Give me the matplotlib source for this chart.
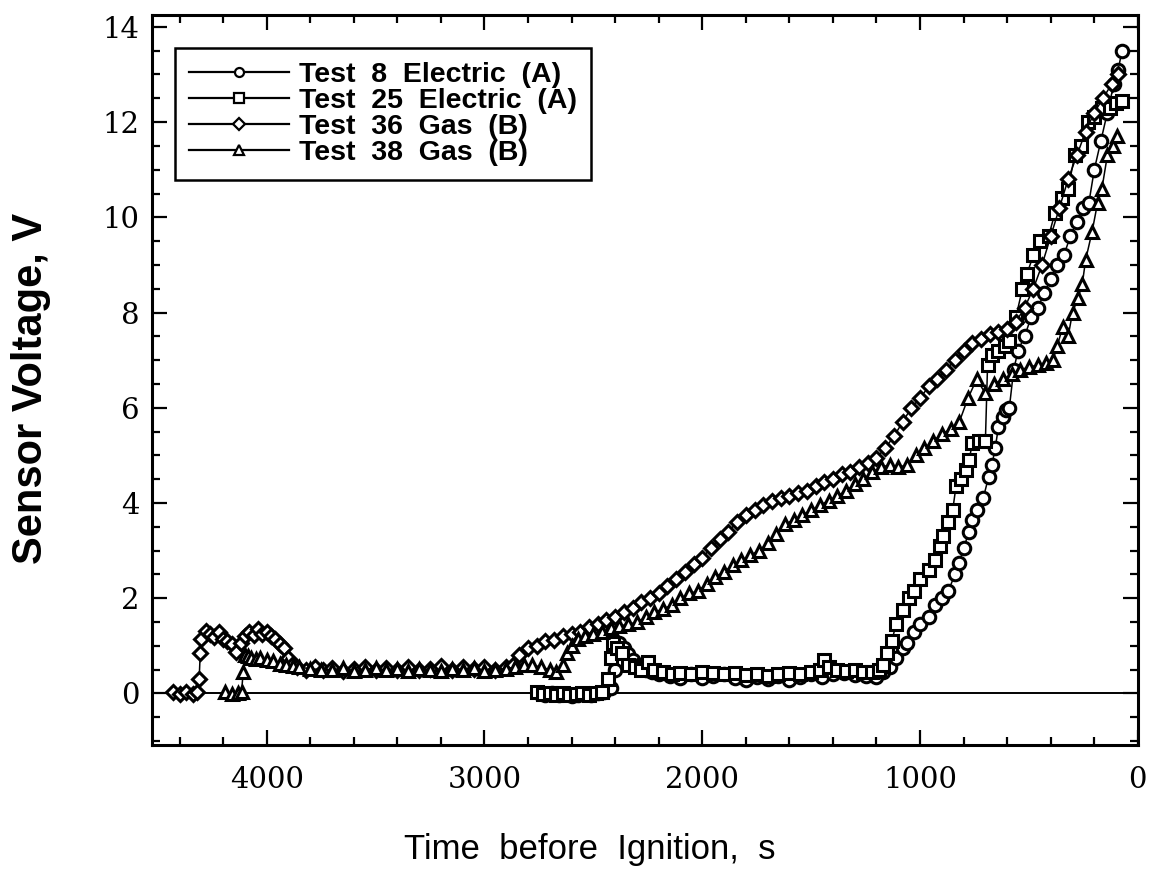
import matplotlib.pyplot as plt
from matplotlib.ticker import MultipleLocator

# --- data (time before ignition in s, voltage in V) ---
t_test8 = [2750, 2720, 2690, 2660, 2630, 2600, 2570, 2540, 2510, 2480, 2450, 2420,
           2400, 2390, 2380, 2360, 2340, 2320, 2290, 2260, 2230, 2200, 2150, 2100,
           2050, 2000, 1950, 1900, 1850, 1800, 1750, 1700, 1650, 1600, 1550, 1500,
           1450, 1400, 1350, 1300, 1250, 1200, 1170, 1140, 1110, 1080, 1060, 1030,
           1000, 960, 930, 900, 870, 840, 820, 800, 775, 760, 740, 710, 685, 670,
           655, 640, 620, 607, 590, 570, 550, 520, 490, 460, 430, 400, 370, 340,
           310, 280, 250, 225, 200, 170, 140, 110, 90, 73]
v_test8 = [0.0, -0.03, 0.0, -0.04, -0.02, -0.05, -0.03, -0.01, -0.04, 0.0, 0.02, 0.12,
           0.5, 0.9, 1.05, 0.95, 0.82, 0.7, 0.6, 0.5, 0.45, 0.4, 0.36, 0.33,
           0.4, 0.32, 0.37, 0.4, 0.33, 0.28, 0.34, 0.3, 0.36, 0.29, 0.35, 0.4,
           0.34, 0.4, 0.42, 0.38, 0.36, 0.35, 0.45, 0.55, 0.75, 0.95, 1.05, 1.3,
           1.45, 1.6, 1.85, 2.0, 2.15, 2.5, 2.75, 3.05, 3.4, 3.65, 3.85, 4.1, 4.55, 4.8,
           5.15, 5.6, 5.8, 5.95, 6.0, 6.8, 7.2, 7.5, 7.9, 8.1, 8.4, 8.7, 9.0, 9.2,
           9.6, 9.9, 10.2, 10.3, 11.0, 11.6, 12.2, 12.8, 13.1, 13.5]

t_test25 = [2760, 2730, 2700, 2670, 2640, 2610, 2580, 2550, 2520, 2490, 2460, 2435,
            2420, 2410, 2390, 2370, 2340, 2310, 2280, 2250, 2220, 2180, 2140, 2100,
            2050, 2000, 1950, 1900, 1850, 1800, 1750, 1700, 1650, 1600, 1550, 1500,
            1460, 1440, 1420, 1380, 1340, 1300, 1260, 1220, 1190, 1170, 1150, 1130,
            1110, 1080, 1050, 1030, 1000, 960, 930, 910, 895, 870, 850, 835, 810,
            790, 775, 760, 730, 700, 690, 670, 640, 610, 590, 560, 530, 510, 480,
            450, 410, 380, 350, 320, 290, 260, 230, 200, 165, 130, 100, 75]
v_test25 = [0.02, -0.02, 0.01, -0.03, 0.0, -0.04, -0.02, 0.01, -0.03, 0.0, 0.02, 0.3,
            0.75, 1.05, 0.95, 0.85, 0.6, 0.55, 0.5, 0.65, 0.5, 0.45, 0.4, 0.42,
            0.4, 0.45, 0.42, 0.4, 0.43, 0.38, 0.41, 0.37, 0.4, 0.43, 0.4, 0.45,
            0.5, 0.7, 0.55, 0.5, 0.47, 0.5, 0.45, 0.44, 0.5, 0.6, 0.85, 1.1,
            1.45, 1.75, 2.0, 2.15, 2.4, 2.6, 2.8, 3.1, 3.3, 3.6, 3.85, 4.35, 4.5,
            4.7, 4.9, 5.25, 5.3, 5.3, 6.9, 7.1, 7.2, 7.3, 7.4, 7.9, 8.5, 8.8, 9.2,
            9.5, 9.6, 10.1, 10.4, 10.6, 11.3, 11.5, 12.0, 12.1, 12.3, 12.3, 12.4, 12.45]

t_test36 = [4430, 4400, 4370, 4340, 4320, 4310, 4305, 4300, 4280, 4260, 4240, 4220,
            4200, 4180, 4160, 4140, 4120, 4100, 4080, 4060, 4040, 4020, 4000, 3980,
            3960, 3940, 3920, 3900, 3880, 3860, 3820, 3780, 3740, 3700, 3650, 3600,
            3550, 3500, 3450, 3400, 3350, 3300, 3250, 3200, 3150, 3100, 3050, 3000,
            2950, 2900, 2870, 2840, 2800, 2760, 2720, 2680, 2640, 2600, 2560, 2520,
            2480, 2440, 2400, 2360, 2320, 2280, 2240, 2200, 2160, 2120, 2080, 2040,
            2000, 1960, 1920, 1880, 1840, 1800, 1760, 1720, 1680, 1640, 1600, 1560,
            1520, 1480, 1440, 1400, 1360, 1320, 1280, 1240, 1200, 1160, 1120, 1080,
            1040, 1000, 960, 920, 880, 840, 800, 760, 720, 680, 640, 600, 560, 520,
            480, 440, 400, 360, 320, 280, 240, 200, 160, 120, 90]
v_test36 = [0.02, -0.02, 0.02, -0.01, 0.04, 0.3, 0.85, 1.15, 1.32, 1.25, 1.18, 1.28,
            1.15, 1.1, 1.04, 0.88, 1.05, 1.2, 1.3, 1.22, 1.36, 1.24, 1.3, 1.2,
            1.14, 1.04, 0.95, 0.75, 0.62, 0.55, 0.5, 0.56, 0.49, 0.53, 0.47, 0.51,
            0.56, 0.49, 0.53, 0.5, 0.56, 0.5, 0.52, 0.57, 0.5, 0.55, 0.52, 0.56,
            0.5, 0.55, 0.6, 0.8, 0.95, 1.0, 1.1, 1.13, 1.2, 1.25, 1.3, 1.4,
            1.46, 1.55, 1.6, 1.72, 1.8, 1.92, 2.0, 2.1, 2.26, 2.4, 2.55, 2.72,
            2.85, 3.05, 3.25, 3.4, 3.6, 3.75, 3.86, 3.95, 4.05, 4.1, 4.15, 4.2,
            4.25, 4.35, 4.45, 4.5, 4.6, 4.65, 4.76, 4.85, 4.95, 5.15, 5.4, 5.7,
            6.0, 6.2, 6.45, 6.6, 6.8, 7.0, 7.2, 7.35, 7.45, 7.55, 7.6, 7.65, 7.8, 8.1,
            8.5, 9.0, 9.6, 10.2, 10.8, 11.3, 11.8, 12.2, 12.5, 12.8, 13.0]

t_test38 = [4190, 4160, 4130, 4115, 4108, 4100, 4085, 4070, 4050, 4030, 4000, 3970,
            3940, 3910, 3880, 3850, 3800, 3750, 3700, 3650, 3600, 3550, 3500, 3450,
            3400, 3350, 3300, 3250, 3200, 3150, 3100, 3050, 3000, 2950, 2900, 2860,
            2820, 2780, 2740, 2700, 2670, 2640, 2620, 2600, 2570, 2540, 2500, 2460,
            2420, 2380, 2340, 2300, 2260, 2220, 2180, 2140, 2100, 2060, 2020, 1980,
            1940, 1900, 1860, 1820, 1780, 1740, 1700, 1660, 1620, 1580, 1540, 1500,
            1460, 1420, 1380, 1340, 1300, 1260, 1220, 1180, 1140, 1100, 1060, 1020,
            980, 940, 900, 860, 820, 780, 740, 700, 660, 620, 580, 540, 500, 460,
            420, 390, 370, 345, 320, 300, 275, 255, 240, 210, 185, 165, 140, 115, 95]
v_test38 = [0.02, -0.02, 0.01, 0.04, 0.45, 0.8, 0.78, 0.75, 0.72, 0.75, 0.7, 0.68,
            0.62, 0.6, 0.58, 0.55, 0.52, 0.5, 0.5, 0.53, 0.48, 0.5, 0.53, 0.49,
            0.51, 0.48, 0.52, 0.5, 0.47, 0.52, 0.5, 0.53, 0.48, 0.5, 0.52, 0.55,
            0.6, 0.6, 0.55, 0.5, 0.45, 0.6, 0.85, 1.0, 1.15, 1.2, 1.25, 1.3,
            1.38, 1.42, 1.45, 1.5, 1.6, 1.7, 1.78, 1.85, 2.0, 2.1, 2.15, 2.3,
            2.45, 2.55, 2.7, 2.8, 2.9, 3.0, 3.15, 3.35, 3.55, 3.65, 3.75, 3.85,
            3.95, 4.05, 4.15, 4.25, 4.4, 4.5, 4.65, 4.75, 4.8, 4.75, 4.8, 5.0,
            5.15, 5.3, 5.45, 5.55, 5.7, 6.2, 6.6, 6.3, 6.5, 6.6, 6.7, 6.8, 6.85, 6.9,
            6.95, 7.0, 7.3, 7.7, 7.5, 8.0, 8.3, 8.6, 9.1, 9.7, 10.3, 10.6, 11.3, 11.5, 11.7]

labels = ["Test  8  Electric  (A)", "Test  25  Electric  (A)",
          "Test  36  Gas  (B)", "Test  38  Gas  (B)"]
markers = ["o", "s", "D", "^"]
x_ticks = [4000, 3000, 2000, 1000, 0]
y_ticks = [0, 2, 4, 6, 8, 10, 12, 14]


def main():
    fig = plt.figure(figsize=(11.54, 8.81), dpi=100)
    ax = fig.add_axes([0.132, 0.154, 0.854, 0.829])

    ax.axhline(0.0, color="black", linewidth=1.4, zorder=1)

    series = [(t_test8, v_test8), (t_test25, v_test25), (t_test36, v_test36), (t_test38, v_test38)]
    sizes = [9, 9, 7.5, 9]
    for (t, v), lab, mk, ms in zip(series, labels, markers, sizes):
        ax.plot(t, v, color="black", linewidth=1.1, marker=mk, markersize=ms,
                markerfacecolor="white", markeredgecolor="black", markeredgewidth=2.2,
                label=lab, zorder=2)

    ax.set_xlim(4525, 20)
    ax.set_ylim(-1.09, 14.25)
    ax.set_xticks(x_ticks)
    ax.set_yticks(y_ticks)
    ax.xaxis.set_minor_locator(MultipleLocator(200))
    ax.yaxis.set_minor_locator(MultipleLocator(0.5))
    ax.tick_params(which="both", direction="in", top=True, right=True, width=1.6)
    ax.tick_params(which="major", length=11)
    ax.tick_params(which="minor", length=6)
    ax.tick_params(axis="x", which="major", pad=15)
    ax.tick_params(axis="y", which="major", pad=9)
    for lbl in ax.get_xticklabels() + ax.get_yticklabels():
        lbl.set_fontfamily("DejaVu Serif")
        lbl.set_fontsize(21)
    for sp in ax.spines.values():
        sp.set_linewidth(2.2)

    ax.set_ylabel("Sensor Voltage, V", fontsize=30, fontweight="bold", family="Liberation Sans")
    ax.yaxis.set_label_coords(-0.103, 0.489)
    ax.set_xlabel("Time  before  Ignition,  s", fontsize=25, family="Liberation Sans")
    ax.xaxis.set_label_coords(0.444, -0.12)

    leg = ax.legend(loc="upper left", bbox_to_anchor=(0.023, 0.955), borderaxespad=0,
                    fancybox=False, framealpha=1, edgecolor="black", handlelength=3.5,
                    handletextpad=0.35, labelspacing=0.0, borderpad=0.5,
                    prop={"family": "Liberation Sans", "weight": "bold", "size": 20.5})
    leg.get_frame().set_linewidth(1.8)
    for h in leg.legend_handles:
        h.set_markersize(6.5)
        h.set_linewidth(1.6)
        h.set_markeredgewidth(1.6)

    fig.savefig("out.png", dpi=100)
    plt.close(fig)


if __name__ == "__main__":
    main()
